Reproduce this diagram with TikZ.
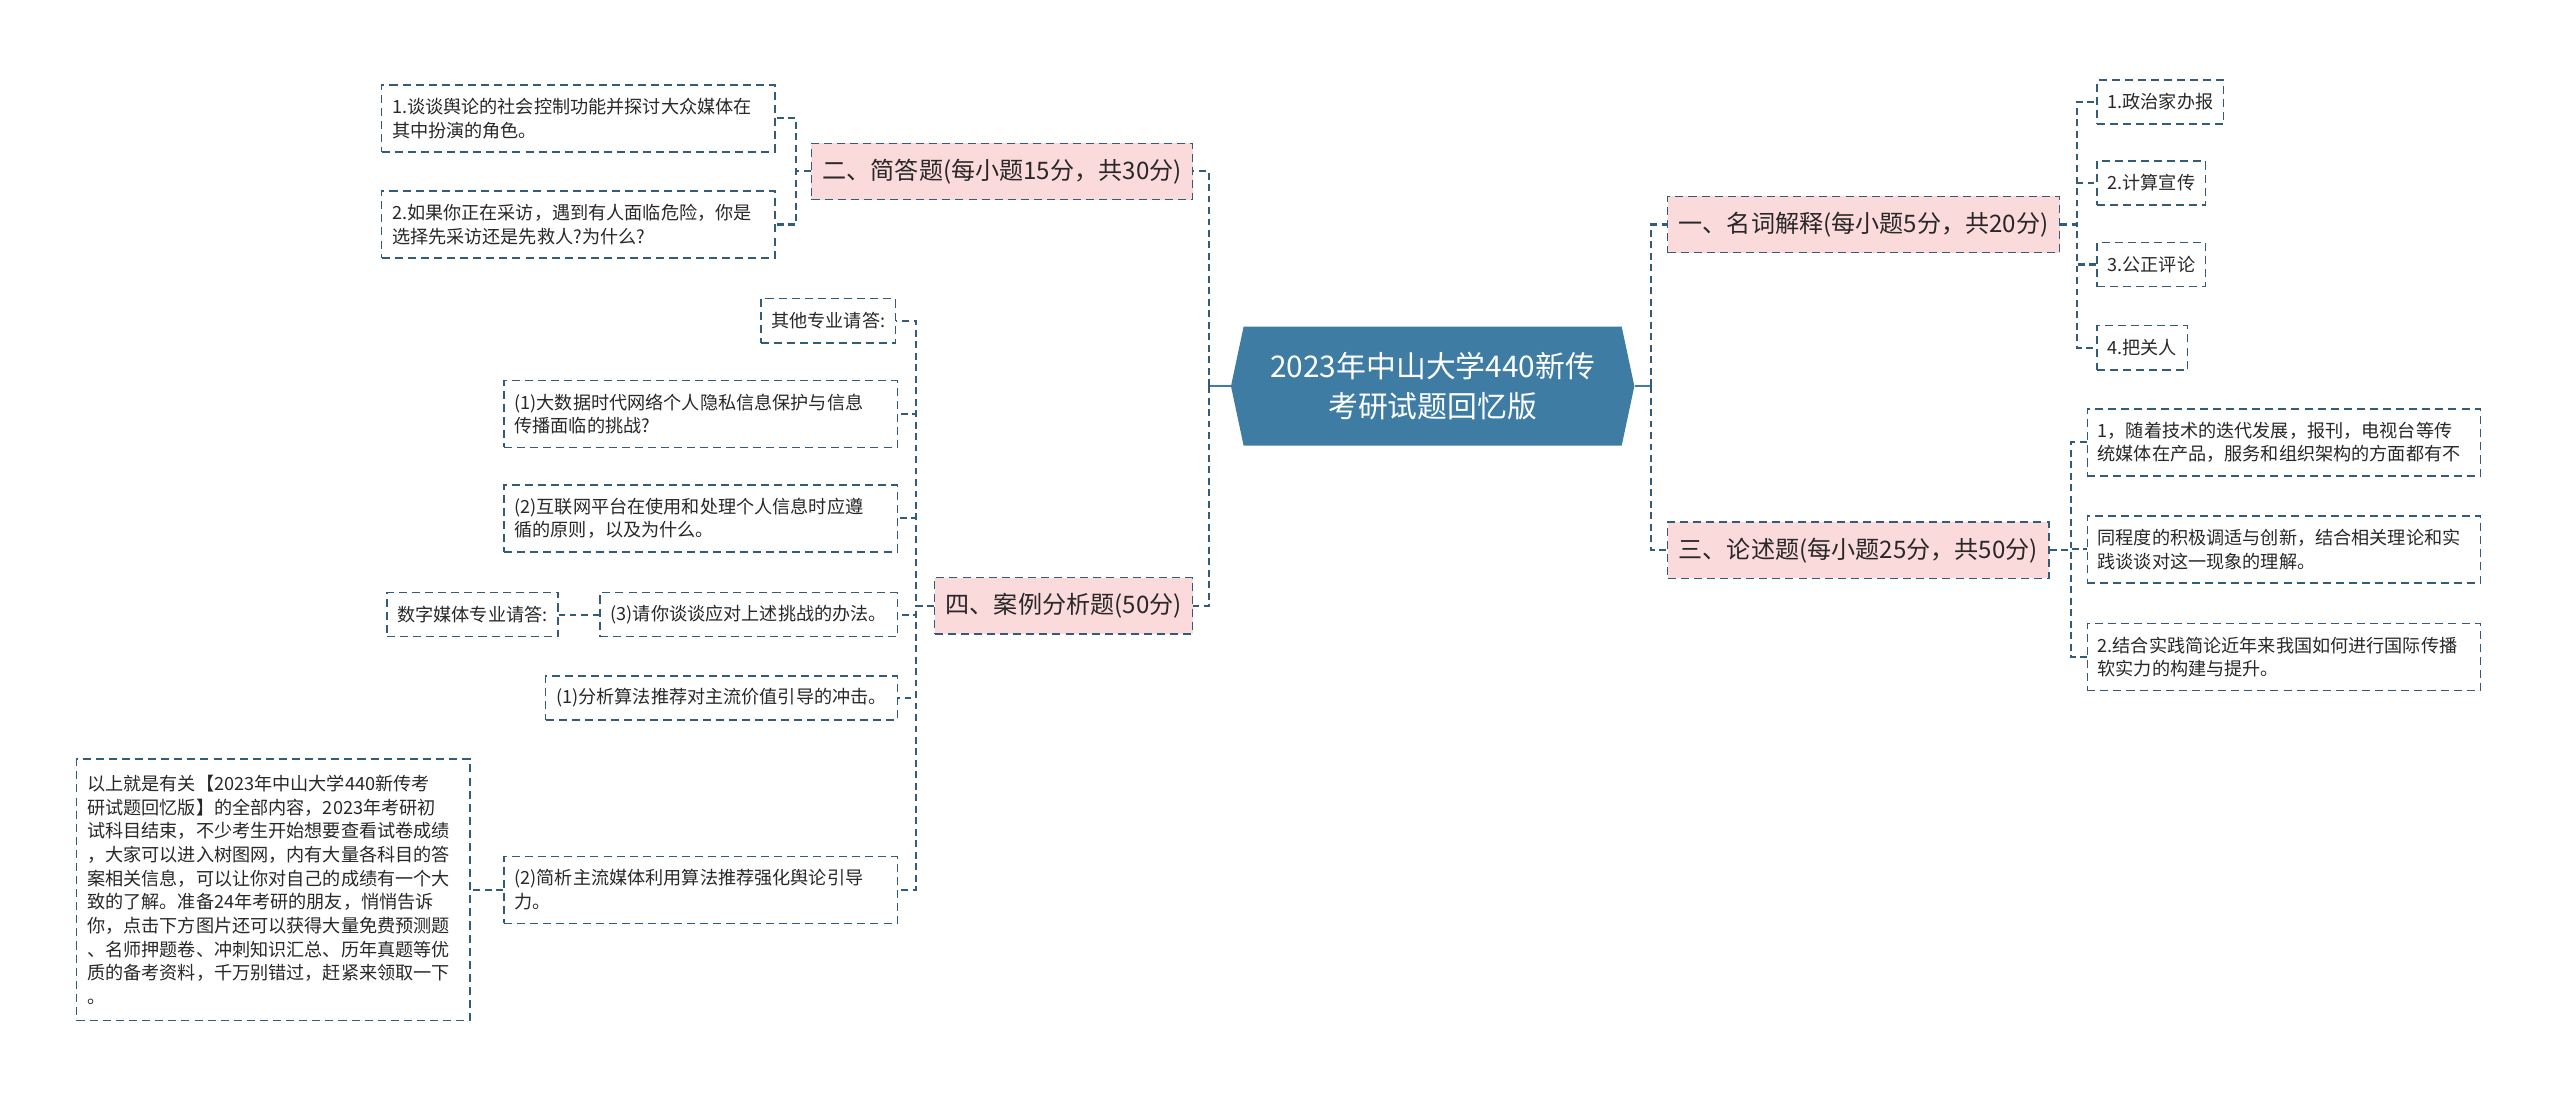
\documentclass[tikz,border=0pt]{standalone}
\usepackage{fontspec}
\setmainfont{Noto Sans CJK SC}
\usetikzlibrary{positioning,shapes.symbols}
\definecolor{rootc}{RGB}{62,124,164}
\definecolor{linec}{RGB}{50,92,122}
\definecolor{pinkc}{RGB}{250,218,218}
\definecolor{txtc}{RGB}{40,40,40}

\begin{document}
\begin{tikzpicture}[
    x=0.025cm, y=-0.025cm,
    every node/.append style={text=txtc},
    root/.style={signal, signal to=east and west, signal pointer angle=156,
      fill=rootc, text=white, font=\fontsize{13}{17.5}\selectfont,
      align=center, minimum width=6.175cm, minimum height=1.825cm, inner sep=0pt},
    topic/.style={draw=linec, line width=0.6pt, dash pattern=on 3.5pt off 2.2pt,
      fill=pinkc, font=\fontsize{10.5}{12}\selectfont,
      minimum height=0.86cm, inner xsep=0.17cm},
    leaf/.style={draw=linec, line width=0.6pt, dash pattern=on 3.5pt off 2.2pt,
      fill=white, font=\fontsize{7.9}{10.3}\selectfont,
      minimum height=0.675cm, inner xsep=0.16cm, align=left},
    para/.style={leaf, text width=5.7cm, minimum height=1.025cm},
    link/.style={draw=linec, line width=0.9pt, dash pattern=on 3pt off 2pt},
    stem/.style={draw=rootc, line width=1.1pt}
  ]
  \useasboundingbox (0,0) rectangle (1568,673);

  \node[root] (root) at (877.5,236.5) {2023年中山大学440新传\\考研试题回忆版};

  % first level
  \node[topic, anchor=east] (er) at (731,105) {二、简答题(每小题15分，共30分)};
  \node[topic, anchor=east] (si) at (731,371) {四、案例分析题(50分)};
  \node[topic, anchor=west] (yi) at (1021,137.5) {一、名词解释(每小题5分，共20分)};
  \node[topic, anchor=west] (san) at (1021,337) {三、论述题(每小题25分，共50分)};

  % left: 二
  \node[para, anchor=east] (er1) at (475,72.5) {1.谈谈舆论的社会控制功能并探讨大众媒体在\\其中扮演的角色。};
  \node[para, anchor=east] (er2) at (475,137.5) {2.如果你正在采访，遇到有人面临危险，你是\\选择先采访还是先救人?为什么?};

  % left: 四
  \node[leaf, anchor=east] (qt) at (549,196.5) {其他专业请答:};
  \node[para, anchor=east] (q1) at (550,253.5) {(1)大数据时代网络个人隐私信息保护与信息\\传播面临的挑战?};
  \node[para, anchor=east] (q2) at (550,317.5) {(2)互联网平台在使用和处理个人信息时应遵\\循的原则，以及为什么。};
  \node[leaf, anchor=east] (q3) at (550,376.5) {(3)请你谈谈应对上述挑战的办法。};
  \node[leaf, left=0.625cm of q3] (sz) {数字媒体专业请答:};
  \node[leaf, anchor=east] (a1) at (550,427.5) {(1)分析算法推荐对主流价值引导的冲击。};
  \node[para, anchor=east] (a2) at (550,545) {(2)简析主流媒体利用算法推荐强化舆论引导\\力。};
  \node[para, left=0.5cm of a2, minimum height=4cm] (tail) {以上就是有关【2023年中山大学440新传考\\研试题回忆版】的全部内容，2023年考研初\\试科目结束，不少考生开始想要查看试卷成绩\\，大家可以进入树图网，内有大量各科目的答\\案相关信息，可以让你对自己的成绩有一个大\\致的了解。准备24年考研的朋友，悄悄告诉\\你，点击下方图片还可以获得大量免费预测题\\、名师押题卷、冲刺知识汇总、历年真题等优\\质的备考资料，千万别错过，赶紧来领取一下\\。};

  % right: 一
  \node[leaf, anchor=west] (z1) at (1284,62.5) {1.政治家办报};
  \node[leaf, anchor=west] (z2) at (1284,112) {2.计算宣传};
  \node[leaf, anchor=west] (z3) at (1284,162) {3.公正评论};
  \node[leaf, anchor=west] (z4) at (1284,213) {4.把关人};

  % right: 三
  \node[para, anchor=west] (l1) at (1278,271) {1，随着技术的迭代发展，报刊，电视台等传\\统媒体在产品，服务和组织架构的方面都有不};
  \node[para, anchor=west] (l2) at (1278,336.5) {同程度的积极调适与创新，结合相关理论和实\\践谈谈对这一现象的理解。};
  \node[para, anchor=west] (l3) at (1278,402.5) {2.结合实践简论近年来我国如何进行国际传播\\软实力的构建与提升。};

  % trunk lines
  \draw[stem] (root.west) -- ++(-13,0) coordinate (lt);
  \draw[stem] (root.east) -- ++(10,0) coordinate (rt);
  \draw[link] (lt) |- (er.east);
  \draw[link] (lt) |- (si.east);
  \draw[link] (rt) |- (yi.west);
  \draw[link] (rt) |- (san.west);

  % branches
  \foreach \c in {er1,er2} \draw[link] (er.west) -- ++(-9,0) |- (\c.east);
  \foreach \c in {qt,q1,q2,q3,a1,a2} \draw[link] (si.west) -- ++(-11,0) |- (\c.east);
  \draw[link] (q3.west) -- (sz.east);
  \draw[link] (a2.west) -- (tail.east);
  \foreach \c in {z1,z2,z3,z4} \draw[link] (yi.east) -- ++(10,0) |- (\c.west);
  \foreach \c in {l1,l2,l3} \draw[link] (san.east) -- ++(13,0) |- (\c.west);
\end{tikzpicture}
\end{document}
